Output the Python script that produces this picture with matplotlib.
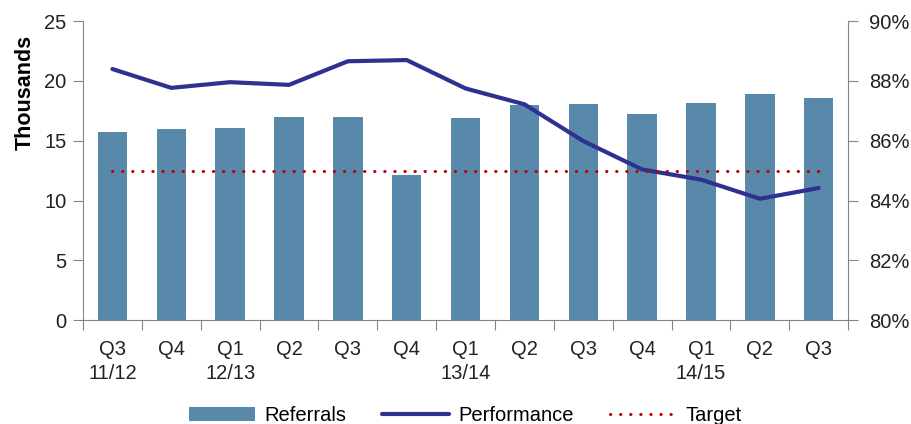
import matplotlib.pyplot as plt
from matplotlib.ticker import FuncFormatter

plt.rcParams['font.family'] = ['Liberation Sans', 'DejaVu Sans']

# data
quarters = ['Q3\n11/12', 'Q4', 'Q1\n12/13', 'Q2', 'Q3', 'Q4', 'Q1\n13/14',
            'Q2', 'Q3', 'Q4', 'Q1\n14/15', 'Q2', 'Q3']
referrals = [15.7, 15.95, 16.05, 17.0, 17.0, 12.1, 16.9, 17.95, 18.05, 17.25, 18.15, 18.95, 18.55]
performance = [88.4, 87.77, 87.96, 87.87, 88.66, 88.7, 87.75, 87.22, 85.99, 85.04, 84.7, 84.06, 84.42]
target = [85.0] * len(quarters)

BAR = '#5889AB'
LINE = '#2E3190'
RED = '#C00000'
GREY = '#868686'
TXT = '#222222'
FS = 14.5

fig = plt.figure(figsize=(9.12, 4.24), dpi=100)
ax = fig.add_axes([0.091, 0.245, 0.839, 0.705])
ax2 = ax.twinx()

x = list(range(len(quarters)))
bars = ax.bar(x, referrals, width=0.5, color=BAR, label='Referrals', zorder=2)
perf, = ax2.plot(x, performance, color=LINE, lw=3, solid_capstyle='round',
                 solid_joinstyle='round', label='Performance', zorder=3)
targ, = ax2.plot(x, target, color=RED, lw=2.2, dashes=(0.1, 3.2),
                 dash_capstyle='round', label='Target', zorder=3)

ax.set_xlim(-0.5, len(quarters) - 0.5)
ax.set_ylim(0, 25)
ax.set_yticks(range(0, 26, 5))
ax2.set_ylim(80, 90)
ax2.set_yticks(range(80, 91, 2))
ax2.yaxis.set_major_formatter(FuncFormatter(lambda v, p: f'{v:.0f}%'))

# category labels centred, tick marks on the boundaries
ax.set_xticks([i - 0.5 for i in range(len(quarters) + 1)])
ax.set_xticklabels([])
ax.set_xticks(x, minor=True)
ax.set_xticklabels(quarters, minor=True, fontsize=FS, color=TXT, linespacing=1.35)
ax.tick_params(axis='x', which='minor', length=0, pad=14)
ax.tick_params(axis='x', which='major', length=7, color=GREY, direction='out')

ax.tick_params(axis='y', length=7, color=GREY, labelsize=FS, labelcolor=TXT, pad=5)
ax2.tick_params(axis='y', length=7, color=GREY, labelsize=FS, labelcolor=TXT, pad=8)

ax.set_ylabel('Thousands', fontsize=15.5, fontweight='bold')
ax.yaxis.set_label_coords(-0.062, 0.763)

for a in (ax, ax2):
    a.spines['top'].set_visible(False)
    for s in ('left', 'right', 'bottom'):
        a.spines[s].set_color(GREY)
ax2.spines['left'].set_visible(False)
ax2.spines['bottom'].set_visible(False)
ax.spines['right'].set_visible(False)

fig.legend(handles=[bars, perf, targ], loc='center', ncol=3,
           bbox_to_anchor=(0.51, 0.02), frameon=False, fontsize=FS,
           handlelength=3.3, handleheight=0.65, columnspacing=1.8, handletextpad=0.45)

fig.savefig('out.png', dpi=100)
